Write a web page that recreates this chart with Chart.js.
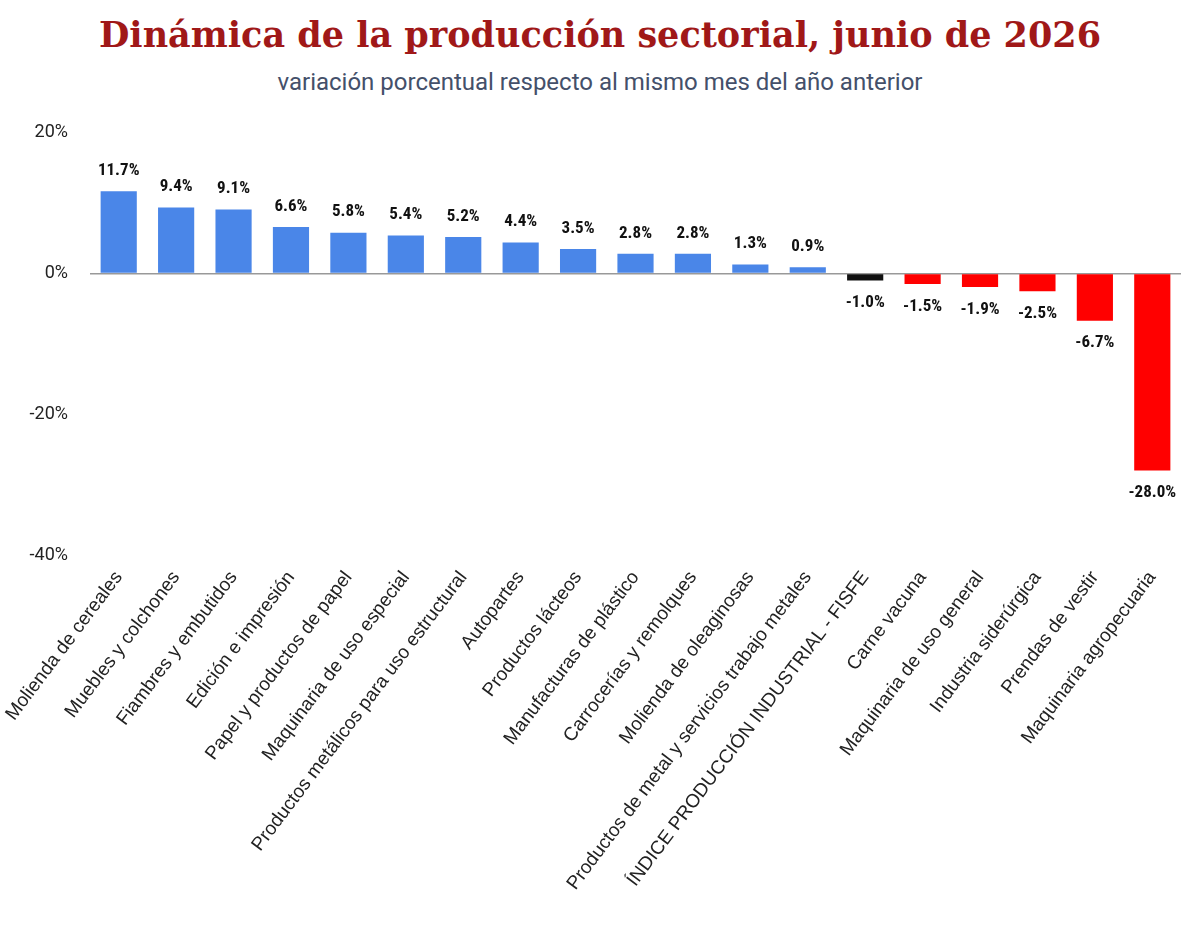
<!DOCTYPE html>
<html><head><meta charset="utf-8">
<script src="https://cdn.jsdelivr.net/npm/chart.js@4"></script>
<style>
body{margin:0;background:#fff;width:1200px;height:928px;overflow:hidden;font-family:Roboto,sans-serif}
#t{position:absolute;top:14px;width:1200px;text-align:center;font:bold 35px "DejaVu Serif",serif;color:#a01818}
#s{position:absolute;top:68px;width:1200px;text-align:center;font:24px Roboto,sans-serif;color:#44506a}
#w{position:absolute;top:100px;left:0;width:1200px;height:828px}
</style></head><body>
<div id="t">Dinámica de la producción sectorial, junio de 2026</div>
<div id="s">variación porcentual respecto al mismo mes del año anterior</div>
<div id="w"><canvas id="c"></canvas></div>
<script>
const categories = ['Molienda de cereales','Muebles y colchones','Fiambres y embutidos','Edición e impresión','Papel y productos de papel','Maquinaria de uso especial','Productos metálicos para uso estructural','Autopartes','Productos lácteos','Manufacturas de plástico','Carrocerías y remolques','Molienda de oleaginosas','Productos de metal y servicios trabajo metales','ÍNDICE PRODUCCIÓN INDUSTRIAL - FISFE','Carne vacuna','Maquinaria de uso general','Industria siderúrgica','Prendas de vestir','Maquinaria agropecuaria'];
const values = [11.7,9.4,9.1,6.6,5.8,5.4,5.2,4.4,3.5,2.8,2.8,1.3,0.9,-1.0,-1.5,-1.9,-2.5,-6.7,-28.0];
const colors = values.map((v,i)=>categories[i].startsWith('ÍNDICE')?'#111':(v<0?'#ff0000':'#4a86e8'));

const valueLabels = {
  id:'valueLabels',
  afterDatasetsDraw(chart){
    const ctx = chart.ctx;
    ctx.save();
    ctx.font = 'bold 17px "Roboto Condensed","Liberation Sans Narrow",Roboto,sans-serif';
    ctx.fillStyle = '#111';
    ctx.textAlign = 'center';
    chart.getDatasetMeta(0).data.forEach((bar,i)=>{
      const v = values[i];
      const txt = v.toFixed(1)+'%';
      if(v>=0){ctx.textBaseline='bottom';ctx.fillText(txt,bar.x,bar.y-12);}
      else{ctx.textBaseline='top';ctx.fillText(txt,bar.x,bar.y+14);}
    });
    ctx.restore();
  }
};

new Chart(document.getElementById('c'),{
  type:'bar',
  data:{labels:categories,datasets:[{data:values,backgroundColor:colors,barPercentage:0.63,categoryPercentage:1}]},
  options:{
    responsive:true,maintainAspectRatio:false,animation:false,
    layout:{padding:{top:12,right:19,left:0,bottom:0}},
    plugins:{legend:{display:false},tooltip:{enabled:false}},
    scales:{
      x:{grid:{display:false},border:{display:false},afterFit:s=>{s.height=373;},
        ticks:{minRotation:53,maxRotation:53,autoSkip:false,padding:4,color:'#222',font:{size:19,family:'"Liberation Sans"'}}},
      y:{min:-40,max:20,afterFit:s=>{s.width=90;},
        ticks:{stepSize:20,padding:22,color:'#222',font:{size:18,family:'Roboto'},callback:v=>v+'%'},
        border:{display:false},
        grid:{drawTicks:false,color:ctx=>ctx.tick.value===0?'#999':'rgba(0,0,0,0)',lineWidth:1.5}}
    }
  },
  plugins:[valueLabels]
});
</script>
</body></html>
